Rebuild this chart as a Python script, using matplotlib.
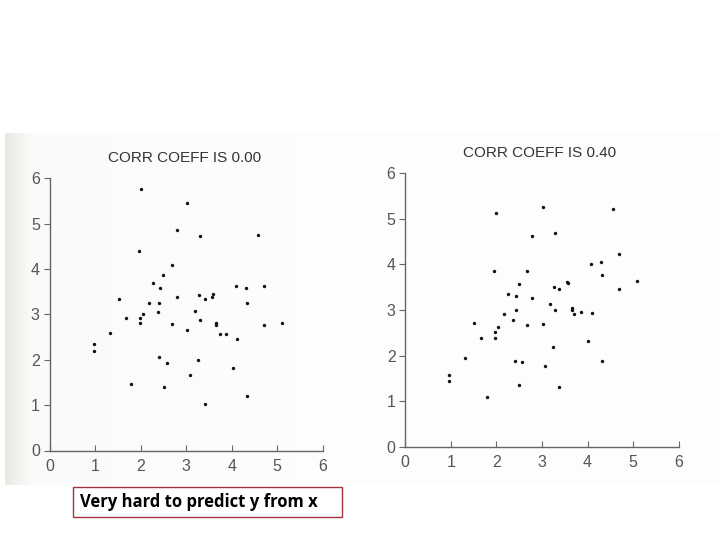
import numpy as np
import matplotlib
matplotlib.use("Agg")
import matplotlib.pyplot as plt
from matplotlib.patches import Rectangle

# === datos ===
x_izq = [2.00, 3.01, 2.79, 3.30, 4.57, 1.97, 2.69, 2.50, 2.28, 2.42,
         4.10, 4.31, 4.71, 1.53, 2.79, 3.28, 3.41, 3.56, 3.58, 2.19,
         2.41, 4.33, 3.20, 2.38, 2.06, 1.68, 1.98, 1.98, 3.30, 2.69,
         3.65, 3.65, 4.71, 5.10, 1.33, 3.01, 3.74, 3.87, 4.12, 0.97,
         0.97, 2.40, 2.58, 3.26, 4.02, 3.08, 1.78, 2.52, 4.34, 3.41]
y_izq = [5.76, 5.46, 4.87, 4.73, 4.76, 4.40, 4.09, 3.87, 3.70, 3.59,
         3.63, 3.59, 3.62, 3.34, 3.39, 3.42, 3.33, 3.38, 3.44, 3.26,
         3.26, 3.25, 3.07, 3.05, 3.01, 2.92, 2.92, 2.80, 2.87, 2.78,
         2.81, 2.76, 2.76, 2.81, 2.59, 2.65, 2.56, 2.57, 2.45, 2.34,
         2.20, 2.07, 1.93, 1.99, 1.81, 1.66, 1.46, 1.41, 1.20, 1.02]

x_der = [3.02, 1.98, 4.55, 2.77, 3.29, 4.69, 4.08, 4.30, 4.32, 1.95,
         2.68, 5.08, 4.69, 2.49, 3.56, 3.55, 3.27, 3.38, 2.26, 2.42,
         2.77, 3.17, 3.65, 3.65, 2.42, 3.29, 3.85, 4.09, 3.71, 2.17,
         2.37, 1.51, 3.02, 2.68, 2.04, 1.96, 1.96, 1.67, 4.00, 3.24,
         1.31, 2.40, 2.56, 4.32, 3.07, 0.95, 0.95, 2.50, 3.37, 1.79]
y_der = [5.25, 5.12, 5.22, 4.62, 4.69, 4.23, 4.01, 4.05, 3.76, 3.86,
         3.86, 3.64, 3.47, 3.58, 3.59, 3.62, 3.50, 3.46, 3.36, 3.30,
         3.26, 3.14, 3.05, 3.01, 2.99, 2.99, 2.96, 2.94, 2.91, 2.92,
         2.79, 2.72, 2.69, 2.66, 2.63, 2.51, 2.39, 2.39, 2.31, 2.18,
         1.95, 1.89, 1.85, 1.87, 1.78, 1.58, 1.44, 1.35, 1.32, 1.10]

titulos = ["CORR COEFF IS 0.00", "CORR COEFF IS 0.40"]
ticks = [0, 1, 2, 3, 4, 5, 6]

plt.rcParams['font.family'] = ['Liberation Sans', 'DejaVu Sans']

W, H = 720, 540
fig = plt.figure(figsize=(7.2, 5.4), dpi=100)

# fondo escaneado (pagina del libro): franja gris a la izquierda
bg = fig.add_axes([5/W, (H-485)/H, 715/W, 352/H])
grad = np.linspace(0, 1, 700)
f = np.clip(grad*28, 0, 1)
tono = 0.915 + 0.065*f + 0.015*np.clip(grad*2, 0, 1)
img = np.stack([tono, tono, tono - 0.025*(1-f)], axis=-1)[None, :, :]
img = np.clip(np.repeat(img, 10, axis=0), 0, 1)
bg.imshow(img, aspect='auto', extent=[0, 1, 0, 1])
bg.axis('off')

gris = '#555555'

def panel(rect, xs, ys, titulo, xt):
    ax = fig.add_axes(rect)
    ax.patch.set_alpha(0)
    ax.scatter(xs, ys, s=6, color='#111111', linewidths=0)
    ax.set_xlim(0, 6)
    ax.set_ylim(0, 6)
    ax.set_xticks(ticks)
    ax.set_yticks(ticks)
    for s in ['top', 'right']:
        ax.spines[s].set_visible(False)
    for s in ['left', 'bottom']:
        ax.spines[s].set_color('#666666')
        ax.spines[s].set_linewidth(1.0)
    ax.tick_params(axis='x', direction='in', length=4, pad=6, color='#666666',
                   labelcolor=gris, labelsize=11.5)
    ax.tick_params(axis='y', direction='out', length=4, pad=3, color='#666666',
                   labelcolor=gris, labelsize=11.5)
    fig.text(xt[0]/W, 1 - xt[1]/H, titulo, ha='center', va='center',
             fontsize=11, color='#333333')
    return ax

panel([49.5/W, (H-450.5)/H, 273.3/W, 272.2/H], x_izq, y_izq, titulos[0], (185, 158))
panel([405.3/W, (H-446.7)/H, 273.4/W, 273.4/H], x_der, y_der, titulos[1], (540, 153))

# recuadro con el comentario
fig.patches.append(Rectangle((73/W, 1 - 517/H), 269/W, 30/H, transform=fig.transFigure,
                             facecolor='white', edgecolor='#a3343c', linewidth=1.0))
fig.text(80/W, 1 - 502/H, "Very hard to predict y from x", ha='left', va='center',
         fontsize=12, fontweight='bold', color='black', family=['Open Sans', 'DejaVu Sans'])

fig.savefig("out.png", dpi=100)
